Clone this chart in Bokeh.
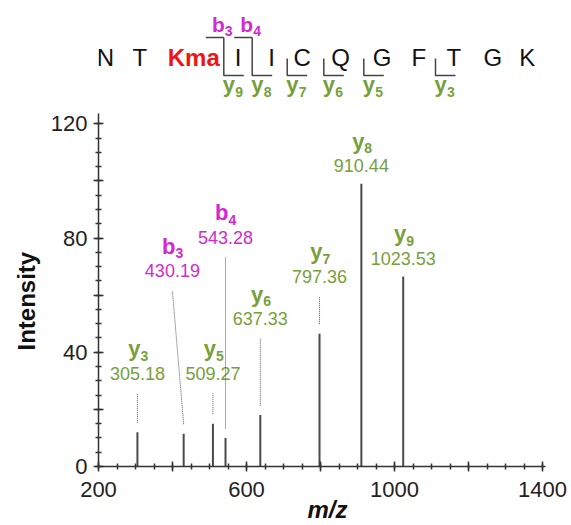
from bokeh.plotting import figure
from bokeh.models import FixedTicker, Range1d, ColumnDataSource, Title
from bokeh.core.properties import value
from bokeh.embed import file_html
from bokeh.resources import INLINE

# ---------------- data ----------------
residues = ["N", "T", "Kma", "I", "I", "C", "Q", "G", "F", "T", "G", "K"]
ion_names = ["y3", "b3", "y5", "b4", "y6", "y7", "y8", "y9"]
ion_mz = [305.18, 430.19, 509.27, 543.28, 637.33, 797.36, 910.44, 1023.53]
ion_intensity = [12.0, 11.5, 15.0, 10.0, 18.0, 46.5, 99.0, 66.5]
b_ions_seen = [3, 4]
y_ions_seen = [9, 8, 7, 6, 5, 3]
x_ticks = [200, 400, 600, 800, 1000, 1200, 1400]
x_tick_labels = ["200", "", "600", "", "1000", "", "1400"]
y_ticks = [0, 20, 40, 60, 80, 100, 120]
y_tick_labels = ["0", "", "40", "", "80", "", "120"]

# ---------------- layout / style ----------------
FONT = value("Liberation Sans")
GREEN = "#77a03c"
MAGENTA = "#d02ad0"
RED = "#f01515"
INK = "#333333"
W, H = 571, 525
FL, FR, FB = 98, 15, 59
PX_MZ, PX_INT = 0.37, 2.856
frame_w, frame_h = W - FL - FR, H - FB
x0 = 200
x_end = x0 + frame_w / PX_MZ
y_end = frame_h / PX_INT


def X(px):  # canvas pixel -> m/z
    return x0 + (px - FL) / PX_MZ


def Y(py):  # canvas pixel -> intensity
    return (frame_h - py) / PX_INT


# label placement for the peak annotations (text centre, m/z shift)
label_y = [32.6, 68.6, 32.6, 80.3, 51.7, 66.6, 105.4, 72.9]
label_dx = [0, -30.5, 0, 0, 0, 0, 0, 0]
# sequence layout (canvas px)
res_px = [105, 139.3, 193.3, 237.7, 271, 301.7, 340, 381.7, 418.3, 453.3, 492.3, 526.7]
site_px = {3: 223.3, 4: 251.7, 5: 286.7, 6: 323.3, 7: 363.3, 9: 435}

p = figure(width=W, height=H, output_backend="svg", toolbar_location=None,
           x_range=Range1d(x0, x_end), y_range=Range1d(0, y_end),
           min_border_left=FL, min_border_right=FR, min_border_bottom=FB,
           min_border_top=0)
p.outline_line_color = None
p.grid.visible = False
p.background_fill_color = "white"
p.border_fill_color = "white"

# axes
xa = p.xaxis[0]
xa.ticker = FixedTicker(ticks=x_ticks, minor_ticks=list(range(200, 1401, 50)))
xa.major_label_overrides = {t: l for t, l in zip(x_ticks, x_tick_labels)}
xa.bounds = (200, 1408)
ya = p.yaxis[0]
ya.ticker = FixedTicker(ticks=y_ticks, minor_ticks=list(range(0, 121, 5)))
ya.major_label_overrides = {t: l for t, l in zip(y_ticks, y_tick_labels)}
ya.bounds = (0, 123.6)
for ax in (xa, ya):
    ax.axis_line_color = INK
    ax.axis_line_width = 1.5
    ax.major_tick_line_color = INK
    ax.major_tick_line_width = 1.5
    ax.minor_tick_line_color = INK
    ax.minor_tick_line_width = 1.5
    ax.major_tick_in = 5
    ax.major_tick_out = 5
    ax.minor_tick_in = 3
    ax.minor_tick_out = 3
    ax.major_label_text_font = "Liberation Sans"
    ax.major_label_text_font_size = "22px"
    ax.major_label_text_color = "#222222"
    ax.axis_label_text_font = "Liberation Sans"
    ax.axis_label_text_font_size = "24px"
    ax.axis_label_text_color = "#111111"
xa.major_label_standoff = 10
ya.major_label_standoff = 6
ya.major_label_orientation = "horizontal"
xa.axis_label = "m/z"
xa.axis_label_text_font_style = "bold italic"
xa.axis_label_standoff = -4

ytitle = Title(text="Intensity", align="left", offset=116, standoff=16,
               text_font="Liberation Sans", text_font_size="24px",
               text_font_style="bold", text_color="#111111")
p.add_layout(ytitle, "left")

# peaks
pk = ColumnDataSource(dict(x=ion_mz, y=ion_intensity, y0=[0] * len(ion_mz)))
p.segment(x0="x", y0="y0", x1="x", y1="y", source=pk, line_color="#4a4a4a", line_width=2)

# annotations of peaks
colors = [GREEN if n[0] == "y" else MAGENTA for n in ion_names]
lx = [m + d for m, d in zip(ion_mz, label_dx)]
ann = ColumnDataSource(dict(
    x=lx, y=label_y, num=["%.2f" % m for m in ion_mz],
    ion=[n[0] for n in ion_names], sub=[n[1:] for n in ion_names], c=colors))
p.text(x="x", y="y", text="num", source=ann, text_color="c", text_font=FONT,
       text_font_size="18px", text_align="center", text_baseline="middle")
p.text(x="x", y="y", text="ion", source=ann, text_color="c", text_font=FONT,
       text_font_size="22px", text_font_style="bold", text_align="right",
       text_baseline="middle", x_offset=3, y_offset=-24.4)
p.text(x="x", y="y", text="sub", source=ann, text_color="c", text_font=FONT,
       text_font_size="14px", text_font_style="bold", text_align="left",
       text_baseline="middle", x_offset=3, y_offset=-17.6)

# dotted connectors
cx0, cy0, cx1, cy1 = [], [], [], []
for m, it, ly, d in zip(ion_mz, ion_intensity, label_y, label_dx):
    if ly - it > 10:
        cx0.append(m); cy0.append(it + 3.3)
        cx1.append(m + d); cy1.append(ly - 7.0)
p.segment(x0=cx0, y0=cy0, x1=cx1, y1=cy1, line_color="#555555", line_width=1,
          line_dash="1 1")

# peptide sequence
seq_mid = Y(65 - 0.35 * 24)
plain = [(X(px), r) for px, r in zip(res_px, residues) if r != "Kma"]
mod = [(X(px), r) for px, r in zip(res_px, residues) if r == "Kma"]
p.text(x=[a for a, _ in plain], y=[seq_mid] * len(plain), text=[b for _, b in plain],
       text_font=FONT, text_font_size="24px", text_color="#111111",
       text_align="center", text_baseline="middle")
p.text(x=[a for a, _ in mod], y=[seq_mid] * len(mod), text=[b for _, b in mod],
       text_font=FONT, text_font_size="24px", text_font_style="bold", text_color=RED,
       text_align="center", text_baseline="middle")

n_res = len(residues)
xs, ys = [], []
bl_x, bl_t, bs_t = [], [], []
yl_x, yl_t, ys_t = [], [], []
for k in y_ions_seen:
    site = n_res - k
    v = site_px[site]
    top = 37 if site in b_ions_seen else 58
    xs.append([X(v), X(v), X(v + 20)])
    ys.append([Y(top), Y(75), Y(75)])
    yl_x.append(X(v - 1)); yl_t.append("y"); ys_t.append(str(k))
for k in b_ions_seen:
    v = site_px[k]
    xs.append([X(v - 18), X(v)])
    ys.append([Y(37), Y(37)])
    bl_x.append(X(v + 1)); bl_t.append("b"); bs_t.append(str(k))
p.multi_line(xs=xs, ys=ys, line_color="#444444", line_width=1.5)

p.text(x=bl_x, y=[Y(31 - 0.35 * 21)] * len(bl_x), text=bl_t, text_font=FONT,
       text_font_size="21px", text_font_style="bold", text_color=MAGENTA,
       text_align="right", text_baseline="middle")
p.text(x=bl_x, y=[Y(35 - 0.35 * 14)] * len(bl_x), text=bs_t, text_font=FONT,
       text_font_size="14px", text_font_style="bold", text_color=MAGENTA,
       text_align="left", text_baseline="middle")
p.text(x=yl_x, y=[Y(92 - 0.35 * 22)] * len(yl_x), text=yl_t, text_font=FONT,
       text_font_size="22px", text_font_style="bold", text_color=GREEN,
       text_align="left", text_baseline="middle")
p.text(x=[a + 12.5 / PX_MZ for a in yl_x], y=[Y(96 - 0.35 * 14)] * len(yl_x), text=ys_t,
       text_font=FONT, text_font_size="14px", text_font_style="bold", text_color=GREEN,
       text_align="left", text_baseline="middle")

open("out.html", "w").write(file_html(p, INLINE))
